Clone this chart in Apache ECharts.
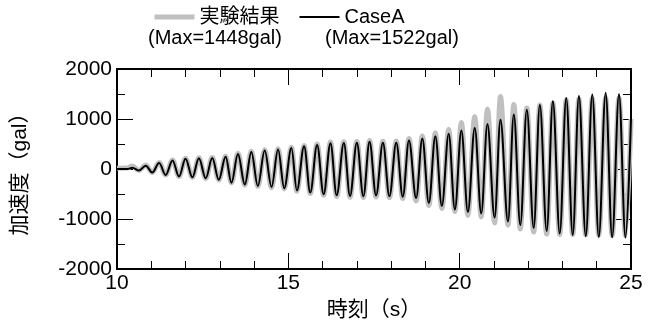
<!DOCTYPE html>
<html><head><meta charset="utf-8">
<script src="https://cdn.jsdelivr.net/npm/echarts@6/dist/echarts.min.js"></script>
<style>html,body{margin:0;padding:0;background:#fff}#c{width:654px;height:328px}</style>
</head><body><div id="c"></div>
<script>
// time (s) of each turning point (peaks/troughs)
const times = [10.00, 10.30,
  10.45, 10.64, 10.84, 11.03, 11.23, 11.42, 11.62, 11.81, 12.00, 12.20,
  12.39, 12.59, 12.78, 12.97, 13.17, 13.34, 13.53, 13.73, 13.92, 14.11,
  14.31, 14.51, 14.70, 14.88, 15.09, 15.25, 15.46, 15.64, 15.84, 16.03,
  16.23, 16.41, 16.62, 16.80, 17.00, 17.19, 17.37, 17.56, 17.76, 17.95,
  18.15, 18.34, 18.52, 18.73, 18.91, 19.10, 19.29, 19.48, 19.68, 19.86,
  20.05, 20.24, 20.44, 20.63, 20.81, 21.02, 21.19, 21.41, 21.58, 21.77,
  21.96, 22.16, 22.34, 22.54, 22.72, 22.92, 23.11, 23.30, 23.48, 23.68,
  23.87, 24.06, 24.26, 24.45, 24.65, 24.84, 25.00];
// CaseA (gal)
const caseA = [0, 0,
  25, -30, 65, -70, 120, -120, 170, -150, 205, -165,
  215, -185, 220, -215, 245, -275, 300, -310, 340, -340,
  370, -360, 390, -385, 420, -430, 455, -470, 480, -505,
  515, -525, 520, -540, 525, -545, 545, -530, 525, -545,
  525, -555, 570, -580, 610, -680, 655, -740, 705, -810,
  770, -860, 825, -890, 900, -970, 985, -1050, 1090, -1120,
  1185, -1180, 1280, -1240, 1355, -1290, 1420, -1320, 1460, -1340,
  1490, -1360, 1522, -1365, 1495, -1370, 1000];
// 実験結果 (gal)
const experiment = [15, 20,
  60, -30, 80, -70, 130, -120, 180, -150, 215, -170,
  225, -190, 230, -220, 255, -280, 315, -320, 355, -350,
  385, -375, 405, -400, 435, -445, 470, -490, 500, -525,
  540, -550, 545, -565, 550, -570, 570, -560, 555, -575,
  560, -590, 610, -640, 660, -730, 720, -790, 790, -850,
  930, -930, 1050, -960, 1200, -1080, 1448, -1120, 1290, -1200,
  1220, -1260, 1280, -1300, 1320, -1310, 1380, -1310, 1400, -1320,
  1410, -1320, 1420, -1330, 1420, -1330, 1000];
const seriesNames = ['実験結果', 'CaseA'];
const maxLabels = ['(Max=1448gal)', '(Max=1522gal)'];
const xName = '時刻（s）';
const yName = '加速度（gal）';

const FONT = '"Liberation Sans", Arial, "Noto Sans CJK JP", sans-serif';
const pairs = (ys) => times.map((t, i) => [t, ys[i]]);
const tick = { show: true, inside: true, length: 16, lineStyle: { color: '#000', width: 1 } };
const axisLine = { show: true, onZero: false, lineStyle: { color: '#000', width: 2 } };
function xAx(pos, showLabel) {
  return {
    type: 'value', position: pos, min: 10, max: 25, interval: 5,
    axisLine, axisTick: tick,
    minorTick: { show: true, splitNumber: 5, length: 8, lineStyle: { color: '#000', width: 1 } },
    splitLine: { show: false },
    axisLabel: { show: showLabel, color: '#000', fontSize: 21, fontFamily: FONT, margin: 4 },
    name: showLabel ? xName : '', nameLocation: 'middle', nameGap: 31,
    nameTextStyle: { color: '#000', fontSize: 21, fontFamily: FONT }
  };
}
function yAx(pos, showLabel) {
  return {
    type: 'value', position: pos, min: -2000, max: 2000, interval: 1000,
    axisLine, axisTick: tick,
    minorTick: { show: true, splitNumber: 2, length: 8, lineStyle: { color: '#000', width: 1 } },
    splitLine: { show: false },
    axisLabel: { show: showLabel, color: '#000', fontSize: 21, fontFamily: FONT, margin: 5,
      formatter: (v) => String(v) },
    name: showLabel ? yName : '', nameLocation: 'middle', nameGap: 86, nameRotate: 90,
    nameTextStyle: { color: '#000', fontSize: 21, fontFamily: FONT }
  };
}
const chart = echarts.init(document.getElementById('c'), null, { renderer: 'canvas' });
chart.setOption({
  animation: false,
  backgroundColor: '#fff',
  grid: { left: 117, right: 23, top: 69, bottom: 59, containLabel: false },
  xAxis: [xAx('bottom', true), xAx('top', false)],
  yAxis: [yAx('left', true), yAx('right', false)],
  legend: {
    left: 147, top: 2, itemWidth: 40, itemHeight: 14, itemGap: 19,
    itemStyle: { opacity: 0 },
    textStyle: { color: '#000', fontSize: 20, fontFamily: FONT },
    data: [
      { name: seriesNames[0], lineStyle: { width: 5, color: '#c0c0c0' } },
      { name: seriesNames[1], lineStyle: { width: 2, color: '#000' } }
    ]
  },
  graphic: [
    { type: 'text', left: 148, top: 28, style: { text: maxLabels[0], fill: '#000', fontSize: 20, fontFamily: FONT } },
    { type: 'text', left: 325, top: 28, style: { text: maxLabels[1], fill: '#000', fontSize: 20, fontFamily: FONT } }
  ],
  series: [
    { name: seriesNames[0], type: 'line', data: pairs(experiment), symbol: 'none',
      smooth: 0.36, smoothMonotone: 'x', clip: true,
      lineStyle: { color: '#c0c0c0', width: 5 }, itemStyle: { color: '#c0c0c0' } },
    { name: seriesNames[1], type: 'line', data: pairs(caseA), symbol: 'none',
      smooth: 0.36, smoothMonotone: 'x', clip: true,
      lineStyle: { color: '#000', width: 2 }, itemStyle: { color: '#000' } }
  ]
});
</script></body></html>
